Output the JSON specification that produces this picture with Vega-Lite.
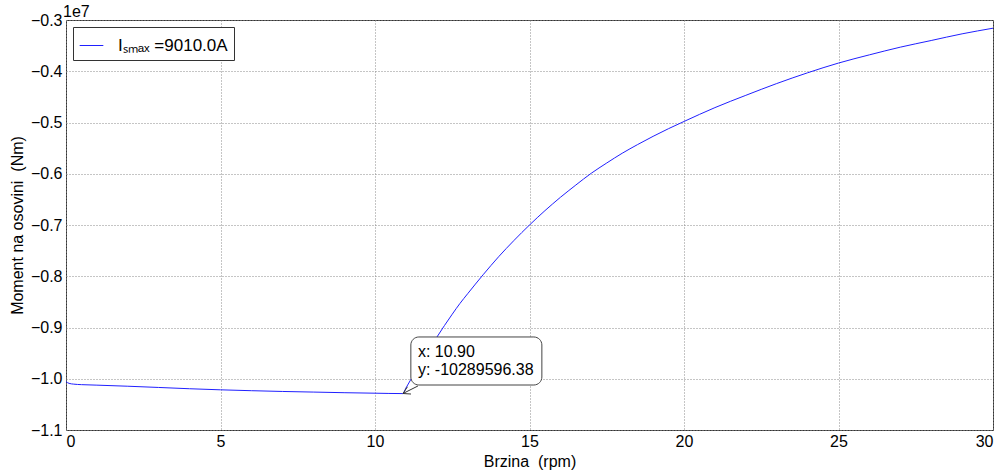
{
  "$schema": "https://vega.github.io/schema/vega-lite/v6.json",
  "width": 927,
  "height": 410,
  "autosize": {"type": "none"},
  "padding": {"left": 66, "top": 20, "right": 11, "bottom": 42},
  "background": "white",
  "config": {
    "font": "Liberation Sans",
    "view": {"stroke": "#333", "strokeWidth": 1},
    "axis": {
      "labelFont": "Liberation Sans",
      "titleFont": "Liberation Sans",
      "labelFontSize": 16,
      "titleFontSize": 16,
      "titleFontWeight": "normal",
      "labelColor": "black",
      "titleColor": "black",
      "grid": true,
      "gridColor": "#8a8a8a",
      "gridDash": [1, 2],
      "gridWidth": 1,
      "domain": false,
      "ticks": false
    },
    "legend": {
      "labelFont": "Liberation Sans",
      "labelFontSize": 17,
      "labelColor": "black"
    }
  },
  "datasets": {
    "curve": [
      {"x": 0, "y": -10057000, "s": "Iₛₘₐₓ =9010.0A"},
      {"x": 0.1, "y": -10090000, "s": "Iₛₘₐₓ =9010.0A"},
      {"x": 0.25, "y": -10105000, "s": "Iₛₘₐₓ =9010.0A"},
      {"x": 0.5, "y": -10115000, "s": "Iₛₘₐₓ =9010.0A"},
      {"x": 1, "y": -10125000, "s": "Iₛₘₐₓ =9010.0A"},
      {"x": 2, "y": -10146000, "s": "Iₛₘₐₓ =9010.0A"},
      {"x": 3, "y": -10170000, "s": "Iₛₘₐₓ =9010.0A"},
      {"x": 4, "y": -10195000, "s": "Iₛₘₐₓ =9010.0A"},
      {"x": 5, "y": -10216000, "s": "Iₛₘₐₓ =9010.0A"},
      {"x": 6, "y": -10233000, "s": "Iₛₘₐₓ =9010.0A"},
      {"x": 7, "y": -10248000, "s": "Iₛₘₐₓ =9010.0A"},
      {"x": 8, "y": -10260000, "s": "Iₛₘₐₓ =9010.0A"},
      {"x": 9, "y": -10272000, "s": "Iₛₘₐₓ =9010.0A"},
      {"x": 10, "y": -10282000, "s": "Iₛₘₐₓ =9010.0A"},
      {"x": 10.9, "y": -10289596.38, "s": "Iₛₘₐₓ =9010.0A"},
      {"x": 11, "y": -10182000, "s": "Iₛₘₐₓ =9010.0A"},
      {"x": 11.25, "y": -9920000, "s": "Iₛₘₐₓ =9010.0A"},
      {"x": 11.5, "y": -9670000, "s": "Iₛₘₐₓ =9010.0A"},
      {"x": 11.75, "y": -9430000, "s": "Iₛₘₐₓ =9010.0A"},
      {"x": 12, "y": -9190000, "s": "Iₛₘₐₓ =9010.0A"},
      {"x": 12.25, "y": -8960000, "s": "Iₛₘₐₓ =9010.0A"},
      {"x": 12.5, "y": -8740000, "s": "Iₛₘₐₓ =9010.0A"},
      {"x": 12.75, "y": -8530000, "s": "Iₛₘₐₓ =9010.0A"},
      {"x": 13, "y": -8340000, "s": "Iₛₘₐₓ =9010.0A"},
      {"x": 13.5, "y": -7970000, "s": "Iₛₘₐₓ =9010.0A"},
      {"x": 14, "y": -7620000, "s": "Iₛₘₐₓ =9010.0A"},
      {"x": 14.5, "y": -7300000, "s": "Iₛₘₐₓ =9010.0A"},
      {"x": 15, "y": -7000000, "s": "Iₛₘₐₓ =9010.0A"},
      {"x": 15.5, "y": -6720000, "s": "Iₛₘₐₓ =9010.0A"},
      {"x": 16, "y": -6460000, "s": "Iₛₘₐₓ =9010.0A"},
      {"x": 16.5, "y": -6220000, "s": "Iₛₘₐₓ =9010.0A"},
      {"x": 17, "y": -5990000, "s": "Iₛₘₐₓ =9010.0A"},
      {"x": 17.5, "y": -5790000, "s": "Iₛₘₐₓ =9010.0A"},
      {"x": 18, "y": -5600000, "s": "Iₛₘₐₓ =9010.0A"},
      {"x": 18.5, "y": -5430000, "s": "Iₛₘₐₓ =9010.0A"},
      {"x": 19, "y": -5270000, "s": "Iₛₘₐₓ =9010.0A"},
      {"x": 19.5, "y": -5120000, "s": "Iₛₘₐₓ =9010.0A"},
      {"x": 20, "y": -4980000, "s": "Iₛₘₐₓ =9010.0A"},
      {"x": 21, "y": -4710000, "s": "Iₛₘₐₓ =9010.0A"},
      {"x": 22, "y": -4470000, "s": "Iₛₘₐₓ =9010.0A"},
      {"x": 23, "y": -4240000, "s": "Iₛₘₐₓ =9010.0A"},
      {"x": 24, "y": -4030000, "s": "Iₛₘₐₓ =9010.0A"},
      {"x": 25, "y": -3840000, "s": "Iₛₘₐₓ =9010.0A"},
      {"x": 26, "y": -3680000, "s": "Iₛₘₐₓ =9010.0A"},
      {"x": 27, "y": -3530000, "s": "Iₛₘₐₓ =9010.0A"},
      {"x": 28, "y": -3400000, "s": "Iₛₘₐₓ =9010.0A"},
      {"x": 29, "y": -3270000, "s": "Iₛₘₐₓ =9010.0A"},
      {"x": 30, "y": -3160000, "s": "Iₛₘₐₓ =9010.0A"}
    ],
    "box": [{"x1": 11.16, "x2": 15.4, "y1": -9185000, "y2": -10122000}],
    "arrow": [
      {"x1": 11.39, "y1": -10141000, "x2": 10.906, "y2": -10288000},
      {"x1": 11.165, "y1": -10298000, "x2": 10.906, "y2": -10288000},
      {"x1": 11.05, "y1": -10157000, "x2": 10.906, "y2": -10288000}
    ],
    "label": [{"x": 11.39, "y": -9322000, "t": "x: 10.90\ny: -10289596.38"}],
    "offset": [{"x": 0, "y": -3000000, "t": "1e7"}]
  },
  "layer": [
    {
      "data": {"name": "curve"},
      "mark": {"type": "line", "strokeWidth": 1, "clip": true, "interpolate": "monotone"},
      "encoding": {
        "x": {
          "field": "x", "type": "quantitative",
          "scale": {"domain": [0, 30], "nice": false, "zero": false},
          "axis": {"values": [0, 5, 10, 15, 20, 25, 30], "title": "Brzina\u00a0 (rpm)", "labelPadding": 3, "titlePadding": 4}
        },
        "y": {
          "field": "y", "type": "quantitative",
          "scale": {"domain": [-11000000, -3000000], "nice": false, "zero": false},
          "axis": {
            "values": [-11000000, -10000000, -9000000, -8000000, -7000000, -6000000, -5000000, -4000000, -3000000],
            "labelExpr": "replace(format(datum.value / 10000000, '.1f'), '-', '−')",
            "title": "Moment na osovini\u00a0 (Nm)",
            "labelPadding": 4,
            "titlePadding": 5
          }
        },
        "color": {
          "field": "s", "type": "nominal",
          "scale": {"range": ["#2020ff"]},
          "legend": {
            "title": null,
            "orient": "top-left",
            "offset": 7,
            "padding": 6,
            "strokeColor": "#333",
            "fillColor": "white",
            "symbolType": "stroke",
            "symbolSize": 560,
            "symbolStrokeWidth": 1,
            "labelOffset": 14
          }
        }
      }
    },
    {
      "data": {"name": "box"},
      "mark": {"type": "rect", "fill": "white", "stroke": "#444", "strokeWidth": 1, "cornerRadius": 8},
      "encoding": {
        "x": {"field": "x1", "type": "quantitative"},
        "x2": {"field": "x2"},
        "y": {"field": "y1", "type": "quantitative"},
        "y2": {"field": "y2"}
      }
    },
    {
      "data": {"name": "arrow"},
      "mark": {"type": "rule", "stroke": "#333", "strokeWidth": 1},
      "encoding": {
        "x": {"field": "x1", "type": "quantitative"},
        "x2": {"field": "x2"},
        "y": {"field": "y1", "type": "quantitative"},
        "y2": {"field": "y2"}
      }
    },
    {
      "data": {"name": "label"},
      "mark": {"type": "text", "align": "left", "baseline": "top", "fontSize": 16, "lineHeight": 18, "lineBreak": "\n", "font": "Liberation Sans", "color": "black"},
      "encoding": {
        "x": {"field": "x", "type": "quantitative"},
        "y": {"field": "y", "type": "quantitative"},
        "text": {"field": "t"}
      }
    },
    {
      "data": {"name": "offset"},
      "mark": {"type": "text", "align": "left", "baseline": "bottom", "fontSize": 16, "dx": -3, "dy": 0, "font": "Liberation Sans", "color": "black", "clip": false},
      "encoding": {
        "x": {"field": "x", "type": "quantitative"},
        "y": {"field": "y", "type": "quantitative"},
        "text": {"field": "t"}
      }
    }
  ]
}
